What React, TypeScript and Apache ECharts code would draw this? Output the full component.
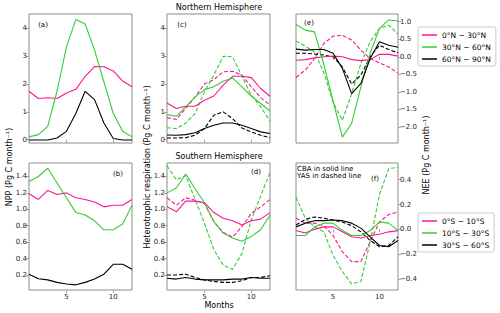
import React, { useEffect, useRef } from "react";
import * as echarts from "echarts";

const months = [1, 2, 3, 4, 5, 6, 7, 8, 9, 10, 11, 12];

const northNames = ["0°N − 30°N", "30°N − 60°N", "60°N − 90°N"];
const southNames = ["0°S − 10°S", "10°S − 30°S", "30°S − 60°S"];

// (a) NPP, Northern Hemisphere
const nppN_0_30 = [1.74, 1.48, 1.51, 1.48, 1.68, 1.81, 2.28, 2.63, 2.62, 2.47, 2.11, 1.9];
const nppN_30_60 = [0.1, 0.18, 0.48, 1.75, 3.34, 4.32, 4.16, 3.22, 2.08, 0.94, 0.3, 0.1];
const nppN_60_90 = [-0.01, -0.01, -0.01, 0.06, 0.3, 0.94, 1.74, 1.44, 0.6, 0.04, -0.01, -0.01];

// (b) NPP, Southern Hemisphere
const nppS_0_10 = [1.19, 1.12, 1.23, 1.18, 1.2, 1.14, 1.12, 1.09, 1.03, 1.05, 1.05, 1.12];
const nppS_10_30 = [1.34, 1.4, 1.5, 1.32, 1.14, 0.96, 0.93, 0.86, 0.75, 0.75, 0.82, 1.05];
const nppS_30_60 = [0.21, 0.155, 0.14, 0.11, 0.09, 0.08, 0.11, 0.15, 0.21, 0.33, 0.33, 0.27];

// (c) Heterotrophic respiration, Northern Hemisphere (CBA solid, YAS dashed)
const rhN_cba_0_30 = [1.32, 1.12, 1.2, 1.2, 1.42, 1.57, 1.96, 2.28, 2.28, 2.23, 1.84, 1.56];
const rhN_yas_0_30 = [0.79, 0.73, 1.12, 1.54, 2.0, 2.16, 2.44, 2.46, 2.32, 1.9, 1.51, 1.24];
const rhN_cba_30_60 = [0.9, 0.84, 1.18, 1.54, 1.8, 1.9, 2.1, 2.22, 1.9, 1.57, 1.3, 1.03];
const rhN_yas_30_60 = [0.43, 0.4, 0.6, 0.94, 1.72, 2.32, 3.0, 2.98, 2.28, 1.6, 1.18, 0.67];
const rhN_cba_60_90 = [0.17, 0.16, 0.18, 0.25, 0.4, 0.52, 0.6, 0.6, 0.52, 0.4, 0.28, 0.22];
const rhN_yas_60_90 = [0.06, 0.06, 0.07, 0.16, 0.4, 0.88, 1.0, 0.76, 0.42, 0.28, 0.16, 0.07];

// (d) Heterotrophic respiration, Southern Hemisphere
const rhS_cba_0_10 = [1.03, 0.97, 1.1, 1.1, 1.08, 0.96, 0.89, 0.86, 0.81, 0.86, 0.88, 0.96];
const rhS_yas_0_10 = [1.14, 1.05, 1.14, 1.11, 1.07, 0.85, 0.72, 0.66, 0.79, 0.95, 1.03, 1.12];
const rhS_cba_10_30 = [1.2, 1.26, 1.43, 1.25, 1.08, 0.85, 0.71, 0.65, 0.61, 0.67, 0.75, 0.93];
const rhS_yas_10_30 = [1.53, 1.36, 1.41, 1.12, 0.83, 0.51, 0.32, 0.27, 0.46, 0.87, 1.16, 1.45];
const rhS_cba_30_60 = [0.16, 0.15, 0.17, 0.15, 0.14, 0.14, 0.14, 0.15, 0.15, 0.17, 0.16, 0.16];
const rhS_yas_30_60 = [0.2, 0.2, 0.21, 0.17, 0.14, 0.12, 0.11, 0.11, 0.13, 0.17, 0.17, 0.19];

// (e) NEE, Northern Hemisphere
const neeN_cba_0_30 = [-0.1, -0.08, -0.03, 0.0, 0.02, 0.0, -0.08, -0.11, -0.08, 0.07, 0.07, 0.02];
const neeN_yas_0_30 = [-0.59, -0.38, -0.05, 0.38, 0.59, 0.61, 0.48, 0.19, -0.05, -0.17, -0.29, -0.46];
const neeN_cba_30_60 = [0.92, 0.76, 0.71, -0.22, -1.26, -2.29, -1.9, -0.86, 0.1, 0.81, 1.05, 1.02];
const neeN_yas_30_60 = [0.45, 0.3, 0.14, -0.45, -1.3, -1.81, -1.05, -0.19, 0.43, 0.81, 0.9, 0.65];
const neeN_cba_60_90 = [0.22, 0.19, 0.21, 0.21, 0.1, -0.33, -1.05, -0.76, -0.05, 0.43, 0.33, 0.27];
const neeN_yas_60_90 = [0.1, 0.1, 0.08, 0.05, 0.0, -0.29, -0.78, -0.52, 0.0, 0.33, 0.21, 0.11];

// (f) NEE, Southern Hemisphere
const neeS_cba_0_10 = [-0.01, -0.03, 0.0, 0.02, 0.02, -0.02, -0.06, -0.07, -0.05, -0.04, -0.02, -0.01];
const neeS_yas_0_10 = [0.09, 0.05, 0.05, 0.03, -0.05, -0.18, -0.26, -0.26, -0.1, 0.06, 0.12, 0.14];
const neeS_cba_10_30 = [-0.05, -0.05, 0.02, 0.05, 0.05, -0.01, -0.05, -0.05, -0.01, 0.06, 0.05, -0.01];
const neeS_yas_10_30 = [0.26, 0.09, 0.02, -0.02, -0.21, -0.34, -0.44, -0.42, -0.1, 0.28, 0.49, 0.5];
const neeS_cba_30_60 = [0.02, 0.05, 0.07, 0.07, 0.075, 0.07, 0.05, 0.01, -0.06, -0.13, -0.14, -0.09];
const neeS_yas_30_60 = [0.035, 0.08, 0.1, 0.09, 0.075, 0.06, 0.03, -0.02, -0.09, -0.14, -0.13, -0.06];

const xTicks = [5, 10];
const yTicksTop = [0, 1, 2, 3, 4];
const yTicksBottom = [0.2, 0.4, 0.6, 0.8, 1.0, 1.2, 1.4];
const yTicksE = [-2.0, -1.5, -1.0, -0.5, 0.0, 0.5, 1.0];
const yTicksF = [-0.4, -0.2, 0.0, 0.2, 0.4];

const PINK = "#ff1493";
const GREEN = "#33cc33";
const BLACK = "#000000";
const COLORS = [PINK, GREEN, BLACK];
const FRAME = "#8c8c8c";
const TXT = "#262626";
const FONT = "DejaVu Sans";

const pts = (v: number[]) => months.map((m, i) => [m, v[i]]);

export default function App() {
  const ref = useRef<HTMLDivElement>(null);
  useEffect(() => {
    document.body.style.margin = "0";
    if (!ref.current) return;
    const chart = echarts.init(ref.current, null, { renderer: "svg" });

    const grids = [
      { left: 29, top: 14, width: 103, height: 129 }, // a
      { left: 29, top: 163, width: 103, height: 127 }, // b
      { left: 167, top: 14, width: 103, height: 129 }, // c
      { left: 167, top: 163, width: 103, height: 127 }, // d
      { left: 296, top: 14, width: 102, height: 129 }, // e
      { left: 296, top: 163, width: 102, height: 127 }, // f
    ].map((g) => ({ ...g, show: true, borderColor: FRAME, borderWidth: 1, backgroundColor: "transparent" }));

    const fmt1 = (v: number) => v.toFixed(1).replace("-", "−");
    const fmt0 = (v: number) => String(Math.round(v));

    const xAxis = grids.map((_, i) => ({
      type: "value",
      gridIndex: i,
      min: 1,
      max: 12,
      axisLine: { show: false },
      splitLine: { show: false },
      axisTick: { show: true, customValues: xTicks, length: 3, lineStyle: { color: FRAME, width: 0.8 } },
      axisLabel: {
        show: i % 2 === 1,
        customValues: xTicks,
        fontSize: 7,
        color: TXT,
        fontFamily: FONT,
        margin: 3,
      },
    }));

    const yCfg = [
      { min: -0.12, max: 4.52, ticks: yTicksTop, f: fmt0, pos: "left" },
      { min: 0.017, max: 1.564, ticks: yTicksBottom, f: fmt1, pos: "left" },
      { min: -0.12, max: 4.52, ticks: yTicksTop, f: fmt0, pos: "left" },
      { min: 0.017, max: 1.564, ticks: yTicksBottom, f: fmt1, pos: "left" },
      { min: -2.457, max: 1.22, ticks: yTicksE, f: fmt1, pos: "right" },
      { min: -0.489, max: 0.535, ticks: yTicksF, f: fmt1, pos: "right" },
    ];
    const yAxis = yCfg.map((c, i) => ({
      type: "value",
      gridIndex: i,
      position: c.pos,
      min: c.min,
      max: c.max,
      axisLine: { show: false },
      splitLine: { show: false },
      axisTick: { show: true, customValues: c.ticks, length: 3, lineStyle: { color: FRAME, width: 0.8 } },
      axisLabel: {
        customValues: c.ticks,
        formatter: c.f,
        fontSize: 7,
        color: TXT,
        fontFamily: FONT,
        margin: 2,
      },
    }));

    const series: any[] = [];
    const add = (idx: number, name: string, data: number[], color: string, dashed: boolean) => {
      series.push({
        type: "line",
        name,
        xAxisIndex: idx,
        yAxisIndex: idx,
        data: pts(data),
        symbol: "none",
        showSymbol: false,
        lineStyle: { color, width: 1.1, type: dashed ? [4, 2] : "solid" },
        itemStyle: { color },
        z: dashed ? 2 : 3,
      });
    };

    [nppN_0_30, nppN_30_60, nppN_60_90].forEach((d, k) => add(0, northNames[k], d, COLORS[k], false));
    [nppS_0_10, nppS_10_30, nppS_30_60].forEach((d, k) => add(1, southNames[k], d, COLORS[k], false));
    [rhN_cba_0_30, rhN_cba_30_60, rhN_cba_60_90].forEach((d, k) => add(2, northNames[k], d, COLORS[k], false));
    [rhN_yas_0_30, rhN_yas_30_60, rhN_yas_60_90].forEach((d, k) => add(2, "YAS " + northNames[k], d, COLORS[k], true));
    [rhS_cba_0_10, rhS_cba_10_30, rhS_cba_30_60].forEach((d, k) => add(3, southNames[k], d, COLORS[k], false));
    [rhS_yas_0_10, rhS_yas_10_30, rhS_yas_30_60].forEach((d, k) => add(3, "YAS " + southNames[k], d, COLORS[k], true));
    [neeN_cba_0_30, neeN_cba_30_60, neeN_cba_60_90].forEach((d, k) => add(4, northNames[k], d, COLORS[k], false));
    [neeN_yas_0_30, neeN_yas_30_60, neeN_yas_60_90].forEach((d, k) => add(4, "YAS " + northNames[k], d, COLORS[k], true));
    [neeS_cba_0_10, neeS_cba_10_30, neeS_cba_30_60].forEach((d, k) => add(5, southNames[k], d, COLORS[k], false));
    [neeS_yas_0_10, neeS_yas_10_30, neeS_yas_30_60].forEach((d, k) => add(5, "YAS " + southNames[k], d, COLORS[k], true));

    const legendBase = {
      orient: "vertical",
      left: 418,
      icon: "rect",
      itemWidth: 15,
      itemHeight: 1.5,
      itemGap: 4,
      padding: [4, 5, 3, 4],
      borderColor: "#cccccc",
      borderWidth: 1,
      borderRadius: 2,
      backgroundColor: "#ffffff",
      textStyle: { fontSize: 7.5, color: "#000", fontFamily: FONT },
    };

    const txt = (x: number, y: number, text: string, size: number, extra: any = {}) => ({
      type: "text",
      x,
      y,
      ...extra,
      style: {
        text,
        fontSize: size,
        fontFamily: FONT,
        fill: "#000",
        textAlign: "center",
        textVerticalAlign: "middle",
        ...(extra.style || {}),
      },
    });

    chart.setOption({
      animation: false,
      grid: grids,
      xAxis,
      yAxis,
      series,
      legend: [
        { ...legendBase, top: 27, data: northNames },
        { ...legendBase, top: 213, data: southNames },
      ],
      graphic: [
        txt(219, 7.5, "Northern Hemisphere", 8),
        txt(219, 156, "Southern Hemisphere", 8),
        txt(219, 305, "Months", 8),
        txt(43, 25, "(a)", 7),
        txt(118, 174, "(b)", 7),
        txt(182, 25, "(c)", 7),
        txt(256, 172, "(d)", 7),
        txt(309, 23, "(e)", 7),
        txt(375, 179, "(f)", 7),
        txt(297, 169, "CBA in solid line", 7, { style: { textAlign: "left" } }),
        txt(297, 176, "YAS in dashed line", 7, { style: { textAlign: "left" } }),
        txt(9, 167, "NPP (Pg C month⁻¹)", 8, { rotation: Math.PI / 2 }),
        txt(147, 167, "Heterotrophic respiration (Pg C month⁻¹)", 8, { rotation: Math.PI / 2 }),
        txt(426, 155, "NEE (Pg C month⁻¹)", 8, { rotation: Math.PI / 2 }),
      ],
    });
    return () => chart.dispose();
  }, []);
  return <div ref={ref} style={{ width: 500, height: 313 }} />;
}
